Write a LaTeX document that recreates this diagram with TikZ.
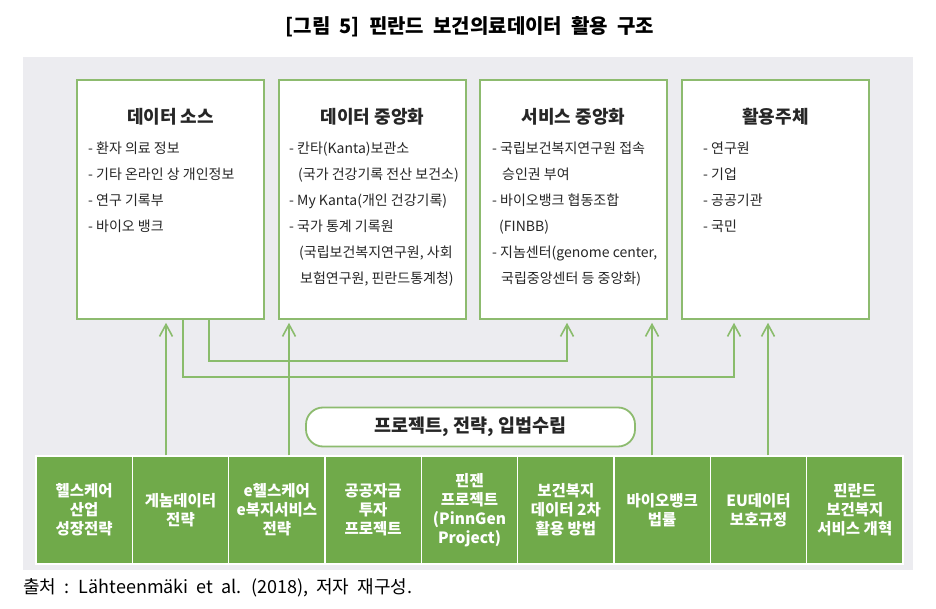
\documentclass[tikz,border=0pt]{standalone}
\usepackage{fontspec}
\setmainfont{Noto Sans CJK KR}
\newfontfamily\widekr[WordSpace=2]{Noto Sans CJK KR}
\usetikzlibrary{arrows.meta}
\definecolor{panelgray}{RGB}{236,236,240}
\definecolor{boxgreen}{RGB}{141,187,111}
\definecolor{fillgreen}{RGB}{112,170,74}
\definecolor{linegreen}{RGB}{138,188,108}
\definecolor{txt}{RGB}{38,38,38}
\begin{document}
\begin{tikzpicture}[x=1pt,y=-1pt,
  topbox/.style={draw=boxgreen, line width=1.6pt, fill=white, minimum width=187pt, minimum height=239pt, inner sep=0pt},
  toptitle/.style={font=\fontsize{18}{21}\selectfont\bfseries, text=txt, inner sep=0pt},
  toplist/.style={font=\fontsize{14}{26}\selectfont, text=txt, align=left, inner sep=0pt, anchor=north west},
  planbox/.style={draw=white, line width=1.5pt, fill=fillgreen, minimum width=96.33pt, minimum height=108pt, inner sep=0pt, text=white, align=center, font=\fontsize{15.5}{19}\selectfont\bfseries},
  arr/.style={draw=linegreen, line width=1.6pt, -{Straight Barb[length=12pt,width=13pt]}, shorten >=3pt}]
\useasboundingbox (0,0) rectangle (936,609);
\node[font=\widekr\fontsize{20}{23}\selectfont\bfseries, inner sep=0pt] (title) at (470,27) {[그림 5] 핀란드 보건의료데이터 활용 구조};
\fill[panelgray] (23,57) rectangle (913,570);
% top row
\node[topbox] (box1) at (170.5,199.5) {};
\node[topbox] (box2) at (372.5,199.5) {};
\node[topbox] (box3) at (573.5,199.5) {};
\node[topbox] (box4) at (775.5,199.5) {};
\node[toptitle] (box1-title) at (170.5,117) {데이터 소스};
\node[toptitle] (box2-title) at (372.5,117) {데이터 중앙화};
\node[toptitle] (box3-title) at (573.5,117) {서비스 중앙화};
\node[toptitle] (box4-title) at (775.5,117) {활용주체};
\node[toplist] (box1-list) at (88,142) {- 환자 의료 정보\\- 기타 온라인 상 개인정보\\- 연구 기록부\\- 바이오 뱅크};
\node[toplist] (box2-list) at (289,142) {- 칸타(Kanta)보관소\\\hspace*{9pt}(국가 건강기록 전산 보건소)\\- My Kanta(개인 건강기록)\\- 국가 통계 기록원\\\hspace*{10pt}(국립보건복지연구원, 사회\\\hspace*{11pt}보험연구원, 핀란드통계청)};
\node[toplist] (box3-list) at (492,142) {- 국립보건복지연구원 접속\\\hspace*{10pt}승인권 부여\\- 바이오뱅크 협동조합\\\hspace*{7pt}(FINBB)\\- 지놈센터(genome center,\\\hspace*{9pt}국립중앙센터 등 중앙화)};
\node[toplist] (box4-list) at (703,142) {- 연구원\\- 기업\\- 공공기관\\- 국민};
% bottom row
\node[planbox] (bid1) at (84.17,510) {헬스케어\\산업\\성장전략};
\node[planbox] (bid2) at (180.5,510) {게놈데이터\\전략};
\node[planbox] (bid3) at (276.83,510) {e헬스케어\\e복지서비스\\전략};
\node[planbox] (bid4) at (373.17,510) {공공자금\\투자\\프로젝트};
\node[planbox] (bid5) at (469.5,510) {핀젠\\프로젝트\\(PinnGen\\Project)};
\node[planbox] (bid6) at (565.83,510) {보건복지\\데이터 2차\\활용 방법};
\node[planbox] (bid7) at (662.17,510) {바이오뱅크\\법률};
\node[planbox] (bid8) at (758.5,510) {EU데이터\\보호규정};
\node[planbox] (bid9) at (854.83,510) {핀란드\\보건복지\\서비스 개혁};
\node[draw=boxgreen, line width=1.8pt, fill=white, rounded corners=17pt, minimum width=329pt, minimum height=39pt, font=\fontsize{18.5}{21}\selectfont\bfseries, text=txt] (plan) at (470.5,427) {프로젝트, 전략, 입법수립};
% connectors
\draw[arr] ([xshift=-14.5pt]bid2.north) -- ([xshift=-4.5pt]box1.south);
\draw[arr] ([xshift=12.17pt]bid3.north) -- ([xshift=-83.5pt]box2.south);
\draw[arr] ([xshift=-10.17pt]bid7.north) -- ([xshift=78.5pt]box3.south);
\draw[arr] ([xshift=9.5pt]bid8.north) -- ([xshift=-7.5pt]box4.south);
\draw[arr] ([xshift=12.5pt]box1.south) -- ++(0,57) -| ([xshift=-41.5pt]box4.south);
\draw[arr] ([xshift=38.5pt]box1.south) -- ++(0,41) -| ([xshift=-6.5pt]box3.south);
\node[anchor=west, font=\widekr\fontsize{18}{21}\selectfont, inner sep=0pt] (source) at (23,588) {출처 : Lähteenmäki et al. (2018), 저자 재구성.};
\end{tikzpicture}
\end{document}
